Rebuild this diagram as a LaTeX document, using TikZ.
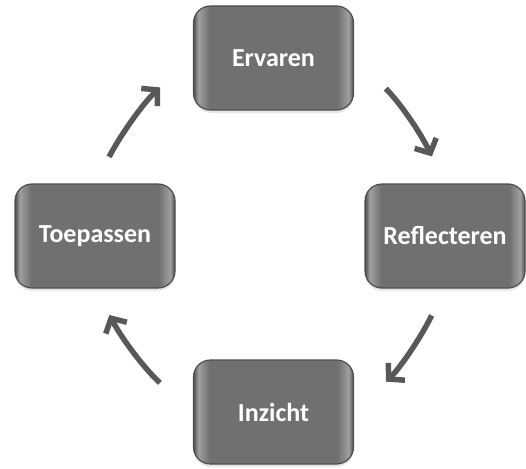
\documentclass[tikz,border=0pt]{standalone}
\usepackage{fontspec}
\usepackage{tikz}
\usetikzlibrary{arrows.meta,positioning,shadows}
\newfontfamily\boxfont{Carlito}
\definecolor{boxedge}{RGB}{78,78,78}
\definecolor{boxhi}{RGB}{160,160,160}
\definecolor{boxmid}{RGB}{112,112,112}
\definecolor{arrowgrey}{RGB}{88,88,88}
\pgfdeclarehorizontalshading{gloss}{100bp}{color(0bp)=(boxedge); color(25bp)=(boxedge); color(26.5bp)=(boxhi); color(30bp)=(boxmid); color(70bp)=(boxmid); color(73.5bp)=(boxhi); color(75bp)=(boxedge); color(100bp)=(boxedge)}
\tikzset{
  stage/.style={rectangle, rounded corners=17pt, draw=boxedge, line width=1.2pt, shading=gloss,
    minimum width=160pt, minimum height=104pt, inner sep=2pt, text=white,
    font=\boxfont\bfseries\fontsize{26}{30}\selectfont,
    drop shadow={opacity=0.18, shadow xshift=0pt, shadow yshift=-3pt}},
  arr/.style={-{Straight Barb[length=11pt,width=24pt]}, line width=5.5pt, draw=arrowgrey, bend left=10},
}
\begin{document}
\begin{tikzpicture}[x=1pt,y=-1pt]
  \useasboundingbox (0,0) rectangle (526,468);
  \node[stage] (ervaren) at (273.5,58) {Ervaren};
  \node[stage] (reflecteren) at (445,236) {Reflecteren};
  \node[stage] (inzicht) at (273.5,412) {Inzicht};
  \node[stage] (toepassen) at (95,236) {Toepassen};
  \draw[arr, shorten <=44pt, shorten >=30pt] (ervaren.east) to (reflecteren.north);
  \draw[arr, shorten <=30pt, shorten >=44pt] (reflecteren.south) to (inzicht.east);
  \draw[arr, shorten <=44pt, shorten >=30pt] (inzicht.west) to (toepassen.south);
  \draw[arr, shorten <=30pt, shorten >=44pt] (toepassen.north) to (ervaren.west);
\end{tikzpicture}
\end{document}
